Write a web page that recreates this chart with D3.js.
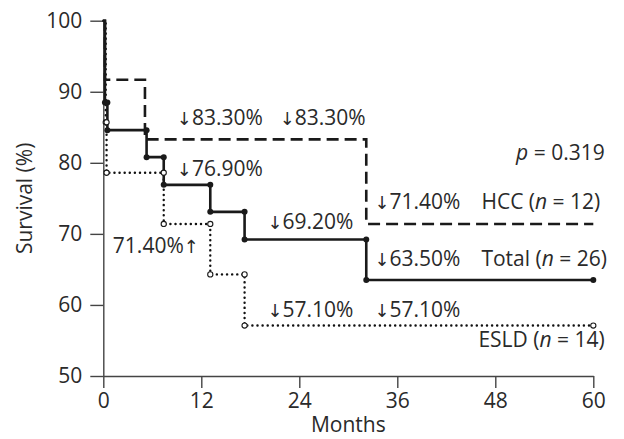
<!DOCTYPE html>
<html>
<head>
<meta charset="utf-8">
<script src="https://cdn.jsdelivr.net/npm/d3@7"></script>
<style>
  body { margin: 0; background: #fff; }
  svg { font-family: 'Open Sans', sans-serif; }
</style>
</head>
<body>
<div id="chart-container"></div>
<script>
// survival steps (months, %)
const hccTimes = [0, 0.2, 5.1, 32.2, 60];
const hccSurv = [100, 91.7, 83.3, 71.4, 71.4];
const totalTimes = [0, 0.2, 0.5, 5.3, 7.4, 13.1, 17.3, 32.2, 60];
const totalSurv = [100, 88.5, 84.6, 80.8, 76.9, 73.1, 69.2, 63.5, 63.5];
const esldTimes = [0, 0.3, 0.4, 7.4, 13.1, 17.3, 60];
const esldSurv = [100, 85.7, 78.6, 71.4, 64.3, 57.1, 57.1];

const xTicks = [0, 12, 24, 36, 48, 60];
const yTicks = [50, 60, 70, 80, 90, 100];

const svgWidth = 624;
const svgHeight = 439;
const marginTop = 20.7;
const marginRight = 30.7;
const marginBottom = 63;
const marginLeft = 103.3;
const fontSize = 21;
const arrowFont = "'DejaVu Sans', sans-serif";

const xScale = d3.scaleLinear().domain([0, 60]).range([marginLeft, svgWidth - marginRight]);
const yScale = d3.scaleLinear().domain([50, 100]).range([svgHeight - marginBottom, marginTop]);

const svg = d3
  .create('svg')
  .attr('width', svgWidth)
  .attr('height', svgHeight)
  .attr('viewBox', [0, 0, svgWidth, svgHeight]);

// axes
const xAxis = svg
  .append('g')
  .attr('transform', `translate(0,${yScale(50)})`)
  .call(d3.axisBottom(xScale).tickValues(xTicks).tickSize(12).tickSizeOuter(0).tickPadding(5));
const yAxis = svg
  .append('g')
  .attr('transform', `translate(${marginLeft},0)`)
  .call(d3.axisLeft(yScale).tickValues(yTicks).tickSize(13).tickSizeOuter(0).tickPadding(8));
[xAxis, yAxis].forEach((g) => {
  g.selectAll('path, line').attr('stroke', '#444').attr('stroke-width', 1.4);
  g.selectAll('text').attr('font-size', fontSize).attr('fill', '#2a2a2a')
    .attr('font-family', "'Open Sans', sans-serif");
});

svg.append('text')
  .attr('x', (marginLeft + svgWidth - marginRight) / 2)
  .attr('y', 432)
  .attr('text-anchor', 'middle')
  .attr('font-size', fontSize)
  .attr('fill', '#2a2a2a')
  .text('Months');
svg.append('text')
  .attr('transform', `translate(32,${(marginTop + svgHeight - marginBottom) / 2}) rotate(-90)`)
  .attr('text-anchor', 'middle')
  .attr('font-size', fontSize)
  .attr('fill', '#2a2a2a')
  .text('Survival (%)');

function toPoints(times, surv) {
  return times.map((t, i) => [t, surv[i]]);
}
function cornerPoints(times, surv) {
  const pts = [];
  for (let i = 1; i < times.length; i++) {
    if (surv[i] !== surv[i - 1] && surv[i - 1] < 100) pts.push([times[i], surv[i - 1]]);
    pts.push([times[i], surv[i]]);
  }
  return pts;
}

const line = d3.line()
  .x((d) => xScale(d[0]))
  .y((d) => yScale(d[1]))
  .curve(d3.curveStepAfter);

// ESLD dotted
svg.append('path')
  .datum(toPoints(esldTimes, esldSurv))
  .attr('d', line)
  .attr('fill', 'none')
  .attr('stroke', '#111')
  .attr('stroke-width', 2.4)
  .attr('stroke-linecap', 'round')
  .attr('stroke-dasharray', '0.1 5');

// HCC dashed
svg.append('path')
  .datum(toPoints(hccTimes, hccSurv))
  .attr('d', line)
  .attr('fill', 'none')
  .attr('stroke', '#1a1a1a')
  .attr('stroke-width', 2.6)
  .attr('stroke-dasharray', '12 6');

// Total solid
svg.append('path')
  .datum(toPoints(totalTimes, totalSurv))
  .attr('d', line)
  .attr('fill', 'none')
  .attr('stroke', '#1a1a1a')
  .attr('stroke-width', 2.6);

svg.append('g')
  .selectAll('circle')
  .data(cornerPoints(totalTimes, totalSurv))
  .join('circle')
  .attr('cx', (d) => xScale(d[0]))
  .attr('cy', (d) => yScale(d[1]))
  .attr('r', 3)
  .attr('fill', '#1a1a1a');

svg.append('g')
  .selectAll('circle')
  .data(cornerPoints(esldTimes, esldSurv))
  .join('circle')
  .attr('cx', (d) => xScale(d[0]))
  .attr('cy', (d) => yScale(d[1]))
  .attr('r', 2.6)
  .attr('fill', '#fff')
  .attr('stroke', '#1a1a1a')
  .attr('stroke-width', 1.1);

// annotations: [arrow before, text, arrow after, month, survival, anchor, n]
const annotations = [
  ['\u2193', '83.30%', '', 9.0, 86.4, 'start'],
  ['\u2193', '83.30%', '', 21.6, 86.4, 'start'],
  ['\u2193', '76.90%', '', 9.0, 79.25, 'start'],
  ['', '71.40%', '\u2191', 11.7, 68.4, 'end'],
  ['\u2193', '69.20%', '', 20.1, 71.7, 'start'],
  ['\u2193', '57.10%', '', 20.1, 59.3, 'start'],
  ['\u2193', '57.10%', '', 33.2, 59.3, 'start'],
  ['\u2193', '71.40%\u2003HCC (', '', 33.2, 74.5, 'start', '12)'],
  ['\u2193', '63.50%\u2003Total (', '', 33.2, 66.6, 'start', '26)'],
  ['', 'ESLD (', '', 61.4, 55.1, 'end', '14)'],
];

annotations.forEach(([pre, txt, post, t, v, anchor, nVal]) => {
  const el = svg.append('text')
    .attr('x', xScale(t))
    .attr('y', yScale(v))
    .attr('dy', '0.36em')
    .attr('text-anchor', anchor)
    .attr('font-size', fontSize)
    .attr('fill', '#2a2a2a')
    .style('white-space', 'pre');
  if (pre) el.append('tspan').attr('font-family', arrowFont).attr('font-size', fontSize - 3).text(pre);
  el.append('tspan').text(txt);
  if (post) el.append('tspan').attr('font-family', arrowFont).attr('font-size', fontSize - 3).text(post);
  if (nVal) {
    el.append('tspan').attr('font-style', 'italic').text('n');
    el.append('tspan').text(' = ' + nVal);
  }
});

const pText = svg.append('text')
  .attr('x', xScale(61.4))
  .attr('y', yScale(81.5))
  .attr('dy', '0.36em')
  .attr('text-anchor', 'end')
  .attr('font-size', fontSize)
  .attr('fill', '#2a2a2a')
  .style('white-space', 'pre');
pText.append('tspan').attr('font-style', 'italic').text('p');
pText.append('tspan').text(' = 0.319');

document.querySelector('#chart-container').append(svg.node());
</script>
</body>
</html>
